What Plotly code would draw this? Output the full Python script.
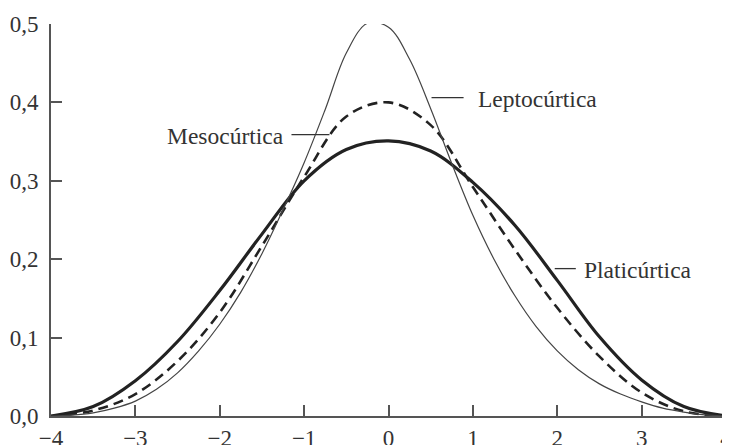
import plotly.graph_objects as go

# values
x_platy = [-4.0, -3.5, -3.0, -2.5, -2.0, -1.5, -1.0, -0.5, 0.0, 0.5, 1.0, 1.5, 2.0, 2.5, 3.0, 3.5, 4.0]
y_platy = [0.0, 0.012, 0.045, 0.095, 0.160, 0.232, 0.300, 0.340, 0.351, 0.338, 0.298, 0.243, 0.173, 0.101, 0.046, 0.012, 0.0]

x_meso = [-4.0, -3.5, -3.0, -2.5, -2.0, -1.5, -1.0, -0.5, 0.0, 0.5, 1.0, 1.5, 2.0, 2.5, 3.0, 3.5, 4.0]
y_meso = [0.0, 0.007, 0.028, 0.070, 0.132, 0.217, 0.305, 0.382, 0.400, 0.371, 0.292, 0.212, 0.138, 0.076, 0.030, 0.006, 0.0]

x_lepto = [-4.0, -3.75, -3.5, -3.25, -3.0, -2.75, -2.5, -2.25, -2.0, -1.75, -1.5, -1.25, -1.0,
           -0.75, -0.5, -0.25, 0.0, 0.25, 0.5, 0.75, 1.0, 1.25, 1.5, 1.75, 2.0, 2.25, 2.5,
           2.75, 3.0, 3.25, 3.5, 3.75, 4.0]
y_lepto = [0.0, 0.001, 0.004, 0.010, 0.019, 0.034, 0.055, 0.083, 0.117, 0.158, 0.207, 0.263, 0.323,
           0.391, 0.463, 0.501, 0.496, 0.455, 0.392, 0.322, 0.256, 0.200, 0.153, 0.114, 0.083, 0.059, 0.041,
           0.028, 0.018, 0.010, 0.005, 0.0015, 0.0]

labels = ["Leptocúrtica", "Mesocúrtica", "Platicúrtica"]

x_ticks = [-4, -3, -2, -1, 0, 1, 2, 3, 4]
y_ticks = [0.0, 0.1, 0.2, 0.3, 0.4, 0.5]

font = "Liberation Serif"
ink = "#222222"
axis_col = "#555555"

fig = go.Figure()
fig.add_trace(go.Scatter(x=x_platy, y=y_platy, mode="lines", cliponaxis=False,
                         line=dict(color=ink, width=3.2, shape="spline", smoothing=1.0)))
fig.add_trace(go.Scatter(x=x_meso, y=y_meso, mode="lines", cliponaxis=False,
                         line=dict(color=ink, width=2.6, dash="10px,6px", shape="spline", smoothing=1.0)))
fig.add_trace(go.Scatter(x=x_lepto, y=y_lepto, mode="lines", cliponaxis=False,
                         line=dict(color="#444444", width=1.2, shape="spline", smoothing=1.0)))

# leader lines + labels
leaders = [
    (0.51, 0.89, 0.406),
    (-1.15, -0.70, 0.359),
    (1.97, 2.22, 0.188),
]
for x0, x1, yy in leaders:
    fig.add_shape(type="line", x0=x0, x1=x1, y0=yy, y1=yy, xref="x", yref="y",
                  line=dict(color="#333333", width=1.3))

fig.add_annotation(x=1.04, y=0.404, text=labels[0], showarrow=False,
                   xanchor="left", yanchor="middle")
fig.add_annotation(x=-1.21, y=0.357, text=labels[1], showarrow=False,
                   xanchor="right", yanchor="middle")
fig.add_annotation(x=2.29, y=0.186, text=labels[2], showarrow=False,
                   xanchor="left", yanchor="middle")

# page body has an 8px margin, so margins are shifted to compensate
fig.update_layout(
    width=722, height=437,
    margin=dict(l=43, r=4, t=16, b=29),
    paper_bgcolor="white", plot_bgcolor="white",
    showlegend=False,
    separators=",.",
    font=dict(family=font, size=23, color="#333333"),
)
fig.update_annotations(font=dict(family=font, size=23.5, color="#333333"))

fig.update_xaxes(
    range=[-4, 4], tickvals=x_ticks, ticks="inside", ticklen=11, tickwidth=1.5,
    tickcolor=axis_col, showline=True, linecolor=axis_col, linewidth=2,
    showgrid=False, zeroline=False, automargin=False, ticklabeloverflow="allow",
)
fig.update_yaxes(
    range=[0, 0.5], tickvals=y_ticks, tickformat=".1f", ticks="inside", ticklen=11,
    tickwidth=1.5, tickcolor=axis_col, showline=True, linecolor=axis_col, linewidth=2,
    showgrid=False, zeroline=False, automargin=False, ticklabelstandoff=6,
    ticklabeloverflow="allow",
)

fig.write_html("out.html")
